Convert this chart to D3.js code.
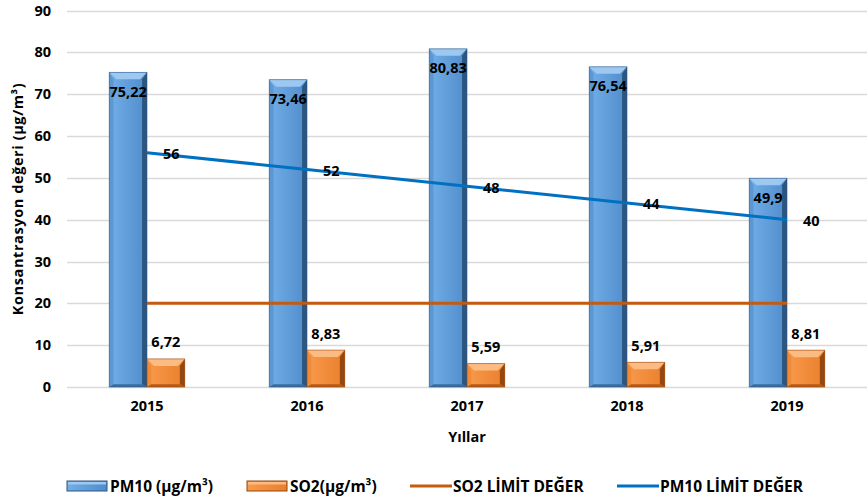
<!DOCTYPE html>
<html>
<head>
<meta charset="utf-8">
<script src="https://cdn.jsdelivr.net/npm/d3@7"></script>
<style>
  body { margin: 0; background: #fff; }
  text { font-family: "Open Sans", sans-serif; font-weight: bold; fill: #000; }
</style>
</head>
<body>
<div id="chart"></div>
<script>
var years = ["2015", "2016", "2017", "2018", "2019"];
var pm10 = [75.22, 73.46, 80.83, 76.54, 49.9];
var so2 = [6.72, 8.83, 5.59, 5.91, 8.81];
var pm10Limit = [56, 52, 48, 44, 40];
var so2Limit = [20, 20, 20, 20, 20];
var yTicks = [0, 10, 20, 30, 40, 50, 60, 70, 80, 90];

var W = 867, H = 499;
var margin = {top: 10.5, right: 0, bottom: 112, left: 67};

var svg = d3.select("#chart").append("svg")
    .attr("width", W)
    .attr("height", H);

var x = d3.scaleBand()
  .domain(years)
  .range([margin.left, W - margin.right]);

var y = d3.scaleLinear()
  .domain([0, 90])
  .range([H - margin.bottom, margin.top]);

var bw = x.bandwidth() * 0.236;
var cx = d => x(d) + x.bandwidth() / 2;
var fmt = v => String(v).replace(".", ",");

// gridlines
svg.append("g")
  .selectAll("line")
  .data(yTicks)
  .enter().append("line")
    .attr("x1", margin.left)
    .attr("x2", W - margin.right)
    .attr("y1", d => Math.round(y(d)) + 0.5)
    .attr("y2", d => Math.round(y(d)) + 0.5)
    .attr("stroke", "#d9d9d9")
    .attr("stroke-width", 1.3);

// y axis labels
var yAxis = d3.axisLeft(y).tickValues(yTicks).tickSize(0).tickPadding(16);
svg.append("g")
  .attr("transform", `translate(${margin.left},0)`)
  .call(yAxis)
  .call(g => g.select(".domain").remove())
  .selectAll("text")
    .style("font-family", "'Open Sans', sans-serif")
    .style("font-weight", "bold")
    .style("font-size", "14.5px")
    .attr("fill", "#000");

// x axis labels
var xAxis = d3.axisBottom(x).tickSize(0).tickPadding(14);
svg.append("g")
  .attr("transform", `translate(0,${y(0)})`)
  .call(xAxis)
  .call(g => g.select(".domain").remove())
  .selectAll("text")
    .style("font-family", "'Open Sans', sans-serif")
    .style("font-weight", "bold")
    .style("font-size", "14.5px")
    .attr("fill", "#000");

// axis titles
svg.append("text")
  .attr("x", 467)
  .attr("y", 442)
  .attr("text-anchor", "middle")
  .style("font-size", "14.5px")
  .text("Yıllar");

svg.append("text")
  .attr("transform", "translate(23,199) rotate(-90)")
  .attr("text-anchor", "middle")
  .style("font-size", "14.5px")
  .style("letter-spacing", "0.6px")
  .text("Konsantrasyon  değeri  (µg/m³)");

// bevelled bars
var pal = {
  blue:   {face0: "#72aee8", face1: "#4f8cca", top: "#9cc8f2", left: "#5a97d3", right: "#2c5680", bottom: "#3b6c9e"},
  orange: {face0: "#f89a4c", face1: "#ea7f2c", top: "#fbbb82", left: "#ef8a38", right: "#94470f", bottom: "#b65a18"}
};

var defs = svg.append("defs");
Object.keys(pal).forEach(function(k){
  var g = defs.append("linearGradient").attr("id", "face-" + k)
    .attr("x1", "0").attr("x2", "1").attr("y1", "0").attr("y2", "0");
  g.append("stop").attr("offset", "0").attr("stop-color", pal[k].face0);
  g.append("stop").attr("offset", "1").attr("stop-color", pal[k].face1);
});

function bevelBar(g, x0, y0, w, h, k) {
  var c = pal[k], b = Math.min(7, h / 3), x1 = x0 + w, y1 = y0 + h;
  g.append("rect").attr("x", x0).attr("y", y0).attr("width", w).attr("height", h)
    .attr("fill", "url(#face-" + k + ")");
  var poly = function(pts, col){
    g.append("polygon").attr("points", pts.map(p => p.join(",")).join(" ")).attr("fill", col);
  };
  poly([[x0, y0], [x1, y0], [x1 - b, y0 + b], [x0 + b, y0 + b]], c.top);
  poly([[x0, y0], [x0 + b * 0.6, y0 + b], [x0 + b * 0.6, y1 - b * 0.4], [x0, y1]], c.left);
  poly([[x1, y0], [x1, y1], [x1 - b * 0.7, y1 - b * 0.4], [x1 - b * 0.7, y0 + b]], c.right);
  poly([[x0, y1], [x0 + b * 0.6, y1 - b * 0.4], [x1 - b * 0.7, y1 - b * 0.4], [x1, y1]], c.bottom);
  g.append("rect").attr("x", x0).attr("y", y0).attr("width", w).attr("height", h)
    .attr("fill", "none").attr("stroke", c.right).attr("stroke-width", 0.8).attr("stroke-opacity", 0.7);
}

var bars = svg.append("g");
years.forEach(function(yr, i){
  bevelBar(bars, cx(yr) - bw, y(pm10[i]), bw, y(0) - y(pm10[i]), "blue");
  bevelBar(bars, cx(yr), y(so2[i]), bw, y(0) - y(so2[i]), "orange");
});

// limit lines
var line = d3.line().x((d, i) => cx(years[i])).y(d => y(d));

svg.append("path")
  .datum(so2Limit)
  .attr("d", line)
  .attr("fill", "none")
  .attr("stroke", "#c55a11")
  .attr("stroke-width", 3);

svg.append("path")
  .datum(pm10Limit)
  .attr("d", line)
  .attr("fill", "none")
  .attr("stroke", "#0070c0")
  .attr("stroke-width", 3);

// data labels
svg.append("g").selectAll("text")
  .data(pm10)
  .enter().append("text")
    .attr("x", (d, i) => cx(years[i]) - bw / 2)
    .attr("y", d => y(d) + 19)
    .attr("text-anchor", "middle")
    .attr("dominant-baseline", "central")
    .style("font-size", "14.5px")
    .text(fmt);

svg.append("g").selectAll("text")
  .data(so2)
  .enter().append("text")
    .attr("x", (d, i) => cx(years[i]) + bw / 2)
    .attr("y", d => y(d) - 17)
    .attr("text-anchor", "middle")
    .attr("dominant-baseline", "central")
    .style("font-size", "14.5px")
    .text(fmt);

svg.append("g").selectAll("text")
  .data(pm10Limit)
  .enter().append("text")
    .attr("x", (d, i) => cx(years[i]) + 16)
    .attr("y", d => y(d) + 1)
    .attr("text-anchor", "start")
    .attr("dominant-baseline", "central")
    .style("font-size", "14.5px")
    .text(fmt);

// legend
var legendItems = [
  {label: "PM10 (µg/m³)", type: "bar", k: "blue", x: 67},
  {label: "SO2(µg/m³)", type: "bar", k: "orange", x: 247},
  {label: "SO2 LİMİT DEĞER", type: "line", color: "#c55a11", x: 410},
  {label: "PM10 LİMİT DEĞER", type: "line", color: "#0070c0", x: 617}
];
var ly = 486;
var legend = svg.append("g");
legendItems.forEach(function(it){
  if (it.type == "bar") {
    var c = pal[it.k];
    legend.append("rect").attr("x", it.x).attr("y", ly - 5).attr("width", 40).attr("height", 10)
      .attr("fill", "url(#face-" + it.k + ")").attr("stroke", c.right).attr("stroke-width", 1);
    legend.append("rect").attr("x", it.x + 1).attr("y", ly - 4).attr("width", 38).attr("height", 2.5)
      .attr("fill", c.top);
  } else {
    legend.append("line").attr("x1", it.x).attr("x2", it.x + 42).attr("y1", ly).attr("y2", ly)
      .attr("stroke", it.color).attr("stroke-width", 3);
  }
  legend.append("text")
    .attr("x", it.x + 43)
    .attr("y", ly)
    .attr("dominant-baseline", "central")
    .style("font-size", "15.5px")
    .text(it.label);
});
</script>
</body>
</html>
